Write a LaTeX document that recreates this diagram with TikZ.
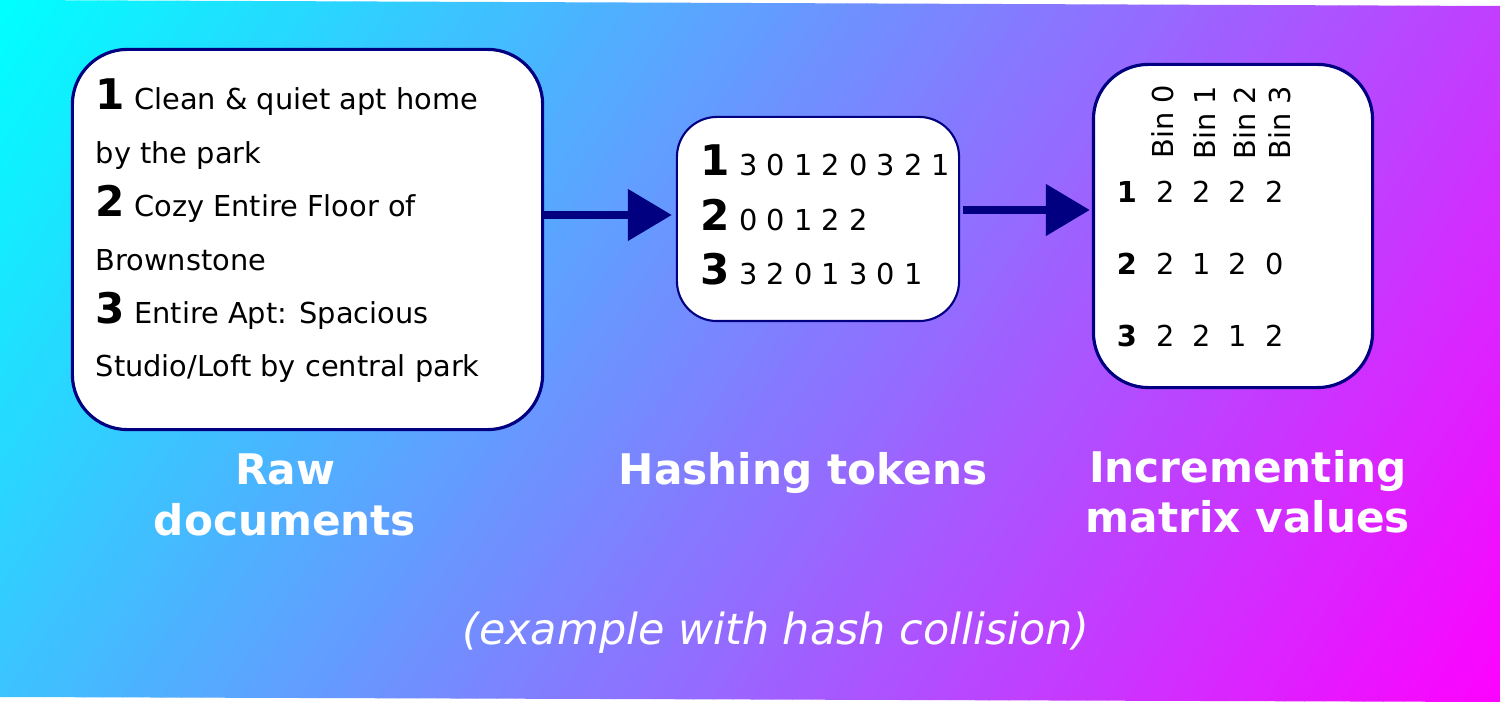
\documentclass[tikz,border=0pt]{standalone}
\usepackage{fontspec}
\setmainfont{DejaVu Sans}
\usetikzlibrary{arrows.meta,calc}
\definecolor{bgcyan}{RGB}{0,255,255}
\definecolor{bgmagenta}{RGB}{255,0,255}
\definecolor{boxnavy}{RGB}{0,0,128}
\newcommand{\idx}[1]{{\fontsize{12}{14}\selectfont\bfseries #1}}
\begin{document}
\begin{tikzpicture}[x=0.01cm, y=-0.01cm,
			card/.style={draw=boxnavy, fill=white, line width=0.9pt, rounded corners=0.55cm, inner sep=0pt},
			txt/.style={anchor=base west, inner sep=0pt, font=\fontsize{8.2}{10}\selectfont},
			cell/.style={anchor=base, inner sep=0pt, font=\fontsize{8.2}{10}\selectfont},
			rowid/.style={cell, font=\fontsize{8.2}{10}\selectfont\bfseries},
			caption/.style={text=white, align=center, font=\fontsize{12}{14.3}\selectfont\bfseries},
			flow/.style={draw=boxnavy, line width=0.08cm, -{Triangle[length=4.4mm, width=5mm]}}
			]
			\useasboundingbox (0,0) rectangle (1500,704);
			\fill[white] (0,0) rectangle (1500,704);
			% background gradient
			\begin{scope}
				\clip (0,0) -- (1500,6) -- (1500,702) -- (0,697) -- cycle;
				\foreach \i in {0,...,99}
					\fill[bgmagenta!\i!bgcyan, rotate=-34] (\i*16.37,-1000) rectangle (\i*16.37+17,1000);
			\end{scope}
			% boxes
			\node[card, minimum width=4.7cm, minimum height=3.8cm] (raw) at (307.5,239.5) {};
			\node[card, line width=0.6pt, rounded corners=0.4cm, minimum width=2.82cm, minimum height=2.04cm] (hash) at (818,219) {};
			\node[card, minimum width=2.79cm, minimum height=3.23cm] (bins) at (1233,226) {};
			% raw documents
			\node[txt] (doc1) at (95,110) {\idx{1} Clean \& quiet apt home};
			\node[txt] (doc1b) at (95,163.4) {by the park};
			\node[txt] (doc2) at (95,216.8) {\idx{2} Cozy Entire Floor of};
			\node[txt] (doc2b) at (95,270.2) {Brownstone};
			\node[txt] (doc3) at (95,323.6) {\idx{3} Entire Apt: Spacious};
			\node[txt] (doc3b) at (95,377) {Studio/Loft by central park};
			% hashed tokens
			\node[txt] (tok1) at (700,176) {\idx{1} 3 0 1 2 0 3 2 1};
			\node[txt] (tok2) at (700,230.5) {\idx{2} 0 0 1 2 2};
			\node[txt] (tok3) at (700,285) {\idx{3} 3 2 0 1 3 0 1};
			% matrix
			\foreach \x/\y/\name [count=\c] in {1173/159/Bin 0, 1215/160/Bin 1, 1255/160/Bin 2, 1290/160/Bin 3}
				\node[txt, rotate=90] (bin\c) at (\x,\y) {\name};
			\foreach \row/\y/\a/\b/\c/\d in {1/203/2/2/2/2, 2/275/2/1/2/0, 3/347/2/2/1/2} {
				\node[rowid] (row\row) at (1127,\y) {\row};
				\node[cell] (v\row a) at (1166,\y) {\a};
				\node[cell] (v\row b) at (1202,\y) {\b};
				\node[cell] (v\row c) at (1238,\y) {\c};
				\node[cell] (v\row d) at (1275,\y) {\d};
			}
			% arrows
			\draw[flow] ($(raw.east |- hash.west)+(0,-4)$) -- ($(hash.west)+(-4,-4)$);
			\draw[flow] ($(hash.east)+(3,-9)$) -- ($(hash.east -| bins.west)+(-2,-9)$);
			% labels
			\node[caption] (lraw) at (285,495) {Raw\\documents};
			\node[caption, anchor=base] (lhash) at (803,485) {Hashing tokens};
			\node[caption] (lbins) at (1248,492) {Incrementing\\matrix values};
			\node[text=white, anchor=base, font=\fontsize{12.2}{14}\selectfont\itshape] (note) at (776,645) {(example with hash collision)};
		\end{tikzpicture}
\end{document}
